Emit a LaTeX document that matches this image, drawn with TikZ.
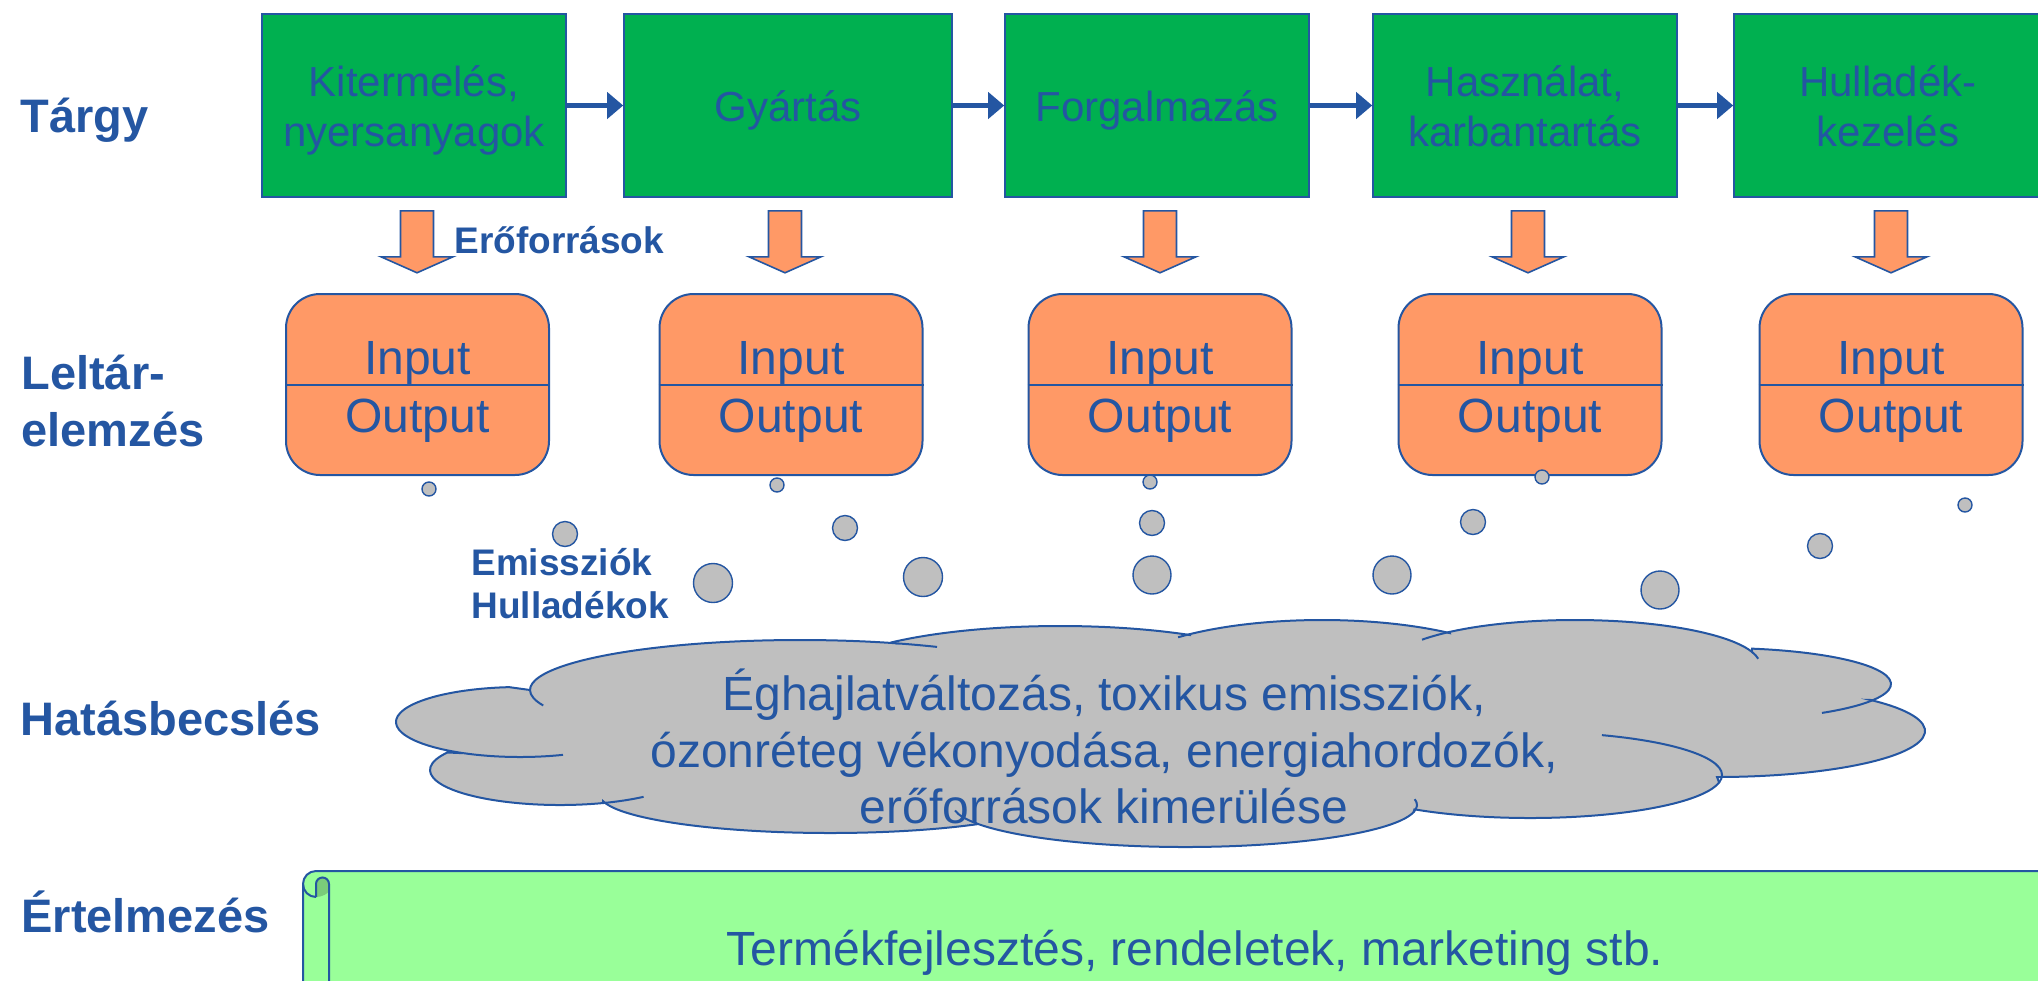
\documentclass[tikz,border=0pt]{standalone}
\usepackage{fontspec}
\setmainfont{Liberation Sans}
\usetikzlibrary{arrows.meta,calc}

\definecolor{ink}{RGB}{36,86,162}
\definecolor{stagegreen}{RGB}{0,176,80}
\definecolor{iobox}{RGB}{255,153,102}
\definecolor{smoke}{RGB}{191,191,191}
\definecolor{paper}{RGB}{153,255,153}
\definecolor{curlgreen}{RGB}{122,204,122}

\tikzset{
  rowlabel/.style={text=ink, font=\bfseries\fontsize{23.5}{28}\selectfont, anchor=base west, inner sep=0pt},
  note/.style={text=ink, font=\bfseries\fontsize{18.5}{21.5}\selectfont, anchor=base west, inner sep=0pt},
  stage/.style={draw=ink, line width=0.8pt, fill=stagegreen, minimum height=91.5pt, inner sep=0pt},
  stagetext/.style={text=ink, font=\fontsize{21}{25}\selectfont, anchor=base, inner sep=0pt},
  flow/.style={draw=ink, line width=2.3pt, -{Triangle[length=8pt,width=13pt]}},
  io/.style={draw=ink, line width=1pt, fill=iobox, rounded corners=17pt,
             minimum width=131.5pt, minimum height=90.5pt, inner sep=0pt},
  iotext/.style={text=ink, font=\fontsize{24}{28}\selectfont, anchor=base, inner sep=0pt},
  iorule/.style={draw=ink, line width=1pt},
  blockarrow/.style={draw=ink, line width=0.8pt, fill=iobox, line join=miter},
  bubble/.style={circle, draw=ink, line width=0.7pt, fill=smoke, inner sep=0pt},
  cloudbody/.style={draw=ink, line width=1pt, fill=smoke},
  cloudline/.style={draw=ink, line width=1pt},
  cloudtext/.style={text=ink, font=\fontsize{24}{28}\selectfont, anchor=base, inner sep=0pt},
  scrollline/.style={draw=ink, line width=1pt},
  bigdown/.pic={
    \path[blockarrow] (-16.5,0) -- (16.5,0) -- (16.5,46) -- (36,46) -- (0,62)
      -- (-36,46) -- (-16.5,46) -- cycle;
  },
}

\begin{document}
\begin{tikzpicture}[x=0.5pt,y=-0.5pt]
\useasboundingbox (0,0) rectangle (2038,980);
\clip (0,0) rectangle (2038,980);

% ---- row labels ----
\node[rowlabel] (lTargy)  at (20,132) {Tárgy};
\node[rowlabel] (lLeltA)  at (21,389) {Leltár-};
\node[rowlabel] (lLeltB)  at (21,446) {elemzés};
\node[rowlabel] (lHatas)  at (20,735) {Hatásbecslés};
\node[rowlabel] (lErtel)  at (21,932) {Értelmezés};

% ---- life-cycle stages ----
\node[stage, minimum width=152pt] (g1) at (414,105.5) {};
\node[stage, minimum width=164pt] (g2) at (788,105.5) {};
\node[stage, minimum width=152pt] (g3) at (1157,105.5) {};
\node[stage, minimum width=152pt] (g4) at (1525,105.5) {};
\node[stage, minimum width=154pt] (g5) at (1888,105.5) {};

\node[stagetext] (g1a) at (414,96)    {Kitermelés,};
\node[stagetext] (g1b) at (414,146.5) {nyersanyagok};
\node[stagetext] (g2a) at (788,121)   {Gyártás};
\node[stagetext] (g3a) at (1157,121)  {Forgalmazás};
\node[stagetext] (g4a) at (1525,96)   {Használat,};
\node[stagetext] (g4b) at (1525,146.5){karbantartás};
\node[stagetext] (g5a) at (1888,96)   {Hulladék-};
\node[stagetext] (g5b) at (1888,146.5){kezelés};

\draw[flow] (g1) -- (g2);
\draw[flow] (g2) -- (g3);
\draw[flow] (g3) -- (g4);
\draw[flow] (g4) -- (g5);

% ---- resource arrows ----
\pic at ($(g1.south)+(3,13)$) {bigdown};
\pic at ($(g2.south)+(-3,13)$) {bigdown};
\pic at ($(g3.south)+(3,13)$) {bigdown};
\pic at ($(g4.south)+(3,13)$) {bigdown};
\pic at ($(g5.south)+(3,13)$) {bigdown};
\node[note] (nRes) at (454,253) {Erőforrások};

% ---- inventory boxes ----
\foreach \n/\cx in {1/417.5, 2/791, 3/1160, 4/1530, 5/1891}{
  \node[io] (o\n) at (\cx,384.5) {};
  \draw[iorule] (o\n.west) -- (o\n.east);
  \node[iotext] (o\n in)  at (\cx,374) {Input};
  \node[iotext] (o\n out) at (\cx,432) {Output};
}

% ---- emission bubbles ----
\node[bubble, minimum size=7pt]    (b11) at (429,489) {};
\node[bubble, minimum size=12.5pt] (b12) at (565,534) {};
\node[bubble, minimum size=19.5pt] (b13) at (713,583) {};
\node[bubble, minimum size=7pt]    (b21) at (777,485) {};
\node[bubble, minimum size=12.5pt] (b22) at (845,528) {};
\node[bubble, minimum size=19.5pt] (b23) at (923,577) {};
\node[bubble, minimum size=7pt]    (b31) at (1150,482) {};
\node[bubble, minimum size=12.5pt] (b32) at (1152,523) {};
\node[bubble, minimum size=19pt]   (b33) at (1152,575) {};
\node[bubble, minimum size=7pt]    (b41) at (1542,477) {};
\node[bubble, minimum size=12.5pt] (b42) at (1473,522) {};
\node[bubble, minimum size=19pt]   (b43) at (1392,575) {};
\node[bubble, minimum size=7pt]    (b51) at (1965,505) {};
\node[bubble, minimum size=12.5pt] (b52) at (1820,546) {};
\node[bubble, minimum size=19pt]   (b53) at (1660,590) {};

\node[note] (nEm1) at (471,575) {Emissziók};
\node[note] (nEm2) at (471,618) {Hulladékok};

% ---- impact cloud: lobe centres ----
\coordinate (lA) at (800,690);
\coordinate (lB) at (1060,680);
\coordinate (lC) at (1322,680);
\coordinate (lD) at (1575,665);
\coordinate (lE) at (1720,684);
\coordinate (lF) at (1717,731);
\coordinate (lG) at (1530,775);
\coordinate (lH) at (1185,805);
\coordinate (lI) at (830,795);
\coordinate (lJ) at (560,770);
\coordinate (lK) at (520,722);

\path[cloudbody]
  ($(lA)+(180:270 and 50)$)   arc[start angle=180,  end angle=290.6, x radius=270, y radius=50]
  -- ($(lB)+(224.7:235 and 54)$) arc[start angle=224.7, end angle=303.6, x radius=235, y radius=54]
  -- ($(lC)+(229.9:205 and 60)$) arc[start angle=229.9, end angle=308.6, x radius=205, y radius=60]
  -- ($(lD)+(227.3:185 and 45)$) arc[start angle=227.3, end angle=343,   x radius=185, y radius=45]
  -- ($(lE)+(280.8:171 and 36)$) arc[start angle=280.8, end angle=386.5, x radius=171, y radius=36]
  -- ($(lF)+(317.6:208 and 46)$) arc[start angle=317.6, end angle=450,   x radius=208, y radius=46]
  -- ($(lG)+(10:192 and 43)$)    arc[start angle=10,    end angle=127,   x radius=192, y radius=43]
  -- ($(lH)+(10:232 and 42)$)    arc[start angle=10,    end angle=153.7, x radius=232, y radius=42]
  -- ($(lI)+(50.3:230 and 38)$)  arc[start angle=50.3,  end angle=170.7, x radius=230, y radius=38]
  -- ($(lJ)+(70.7:130 and 35)$)  arc[start angle=70.7,  end angle=210,   x radius=130, y radius=35]
  -- ($(lK)+(117:124 and 35)$)   arc[start angle=117,   end angle=265,   x radius=124, y radius=35]
  -- cycle;

% inner folds of the cloud
\path[cloudline] ($(lA)+(162:270 and 50)$)   arc[start angle=162,   end angle=180,   x radius=270, y radius=50];
\path[cloudline] ($(lA)+(290.6:270 and 50)$) arc[start angle=290.6, end angle=300.5, x radius=270, y radius=50];
\path[cloudline] ($(lC)+(225.4:205 and 60)$) arc[start angle=225.4, end angle=229.9, x radius=205, y radius=60];
\path[cloudline] ($(lD)+(214.2:185 and 45)$) arc[start angle=214.2, end angle=227.3, x radius=185, y radius=45];
\path[cloudline] ($(lD)+(343:185 and 45)$)   arc[start angle=343,   end angle=352,   x radius=185, y radius=45];
\path[cloudline] ($(lE)+(386.5:171 and 36)$) arc[start angle=386.5, end angle=413.4, x radius=171, y radius=36];
\path[cloudline] ($(lG)+(-68:192 and 43)$)   arc[start angle=-68,   end angle=10,    x radius=192, y radius=43];
\path[cloudline] ($(lH)+(-8:232 and 42)$)    arc[start angle=-8,    end angle=10,    x radius=232, y radius=42];
\path[cloudline] ($(lH)+(153.7:232 and 42)$) arc[start angle=153.7, end angle=172.5, x radius=232, y radius=42];
\path[cloudline] ($(lJ)+(50:130 and 35)$)    arc[start angle=50,    end angle=70.7,  x radius=130, y radius=35];
\path[cloudline] ($(lK)+(69.7:124 and 35)$)  arc[start angle=69.7,  end angle=117,   x radius=124, y radius=35];

\node[cloudtext] (c1) at (1104,710) {Éghajlatváltozás, toxikus emissziók,};
\node[cloudtext] (c2) at (1104,767) {ózonréteg vékonyodása, energiahordozók,};
\node[cloudtext] (c3) at (1104,823) {erőforrások kimerülése};

% ---- interpretation scroll ----
\path[fill=paper] (303,1000) -- (303,884) arc[start angle=180, end angle=270, radius=13]
  -- (2060,871) -- (2060,1000) -- cycle;
\path[fill=curlgreen] (316,897) -- (316,884) arc[start angle=180, end angle=360, radius=6.5]
  -- (329,890) .. controls (329,894) and (321,897) .. (316,897) -- cycle;
\draw[scrollline] (303,1000) -- (303,884) arc[start angle=180, end angle=270, radius=13] -- (2060,871);
\draw[scrollline] (303,884) arc[start angle=180, end angle=90, radius=13];
\draw[scrollline] (316,897) -- (316,884) arc[start angle=180, end angle=360, radius=6.5] -- (329,1000);

\node[cloudtext] (s1) at (1195,965) {Termékfejlesztés, rendeletek, marketing stb.};
\end{tikzpicture}
\end{document}
